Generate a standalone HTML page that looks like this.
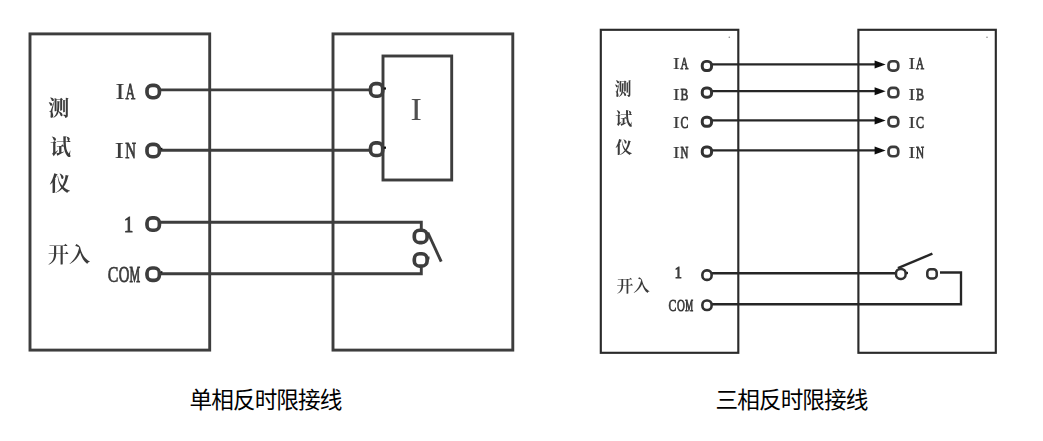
<!DOCTYPE html>
<html><head><meta charset="utf-8">
<style>
html,body{margin:0;padding:0;background:#fff;}
svg{display:block;}
.lat{font-family:"Liberation Serif","Noto Serif CJK SC",serif;fill:#3a3a3a;stroke:#3a3a3a;}
.cjs{font-family:"Liberation Serif","Noto Serif CJK SC",serif;fill:#3a3a3a;}
.cap{font-family:"Liberation Sans","Noto Sans CJK SC",sans-serif;fill:#000;}
</style></head>
<body>
<svg width="1043" height="441" viewBox="0 0 1043 441">
<defs><filter id="soft" x="0" y="0" width="1043" height="441" filterUnits="userSpaceOnUse"><feGaussianBlur stdDeviation="0.45"/></filter></defs>
<rect width="1043" height="441" fill="#fff"/>
<g filter="url(#soft)">
<!-- LEFT DIAGRAM -->
<g fill="none" stroke="#3c3c3c" stroke-width="2.9">
  <rect x="30" y="33.9" width="179.7" height="316.2"/>
  <rect x="333" y="33.9" width="179.8" height="316.2"/>
  <rect x="383" y="56" width="68.7" height="124"/>
  <path d="M160 89.9H370"/>
  <path d="M160 150.2H370"/>
  <path d="M160 222.2H421.3V229.5"/>
  <path d="M160 273.8H421.3V267.5"/>
  <path d="M427.8 232.5L441.2 261.6"/>
  <path d="M426 258H429.5"/>
</g>
<g fill="#fff" stroke="#3c3c3c" stroke-width="3.65">
  <rect x="147.00" y="85.30" width="12.40" height="12.40" rx="5.10"/>
  <rect x="147.00" y="144.40" width="12.40" height="12.40" rx="5.10"/>
  <rect x="147.00" y="217.90" width="12.40" height="12.40" rx="5.10"/>
  <rect x="147.00" y="268.00" width="12.40" height="12.40" rx="5.10"/>
  <rect x="370.50" y="83.65" width="12.20" height="12.60" rx="5.00"/>
  <rect x="370.50" y="142.90" width="12.20" height="12.60" rx="5.00"/>
  <rect x="414.30" y="230.20" width="12.80" height="12.40" rx="5.20"/>
  <rect x="414.30" y="253.70" width="12.80" height="12.40" rx="5.20"/>
</g>
<g class="lat">
<text transform="translate(115.26,99.30) scale(1.250,1)" font-size="23.00" stroke-width="0.05" vector-effect="non-scaling-stroke">I</text>
<text transform="translate(125.51,99.30) scale(0.583,1)" font-size="23.00" stroke-width="0.76" vector-effect="non-scaling-stroke">A</text>
<text transform="translate(114.46,158.30) scale(1.250,1)" font-size="23.00" stroke-width="0.05" vector-effect="non-scaling-stroke">I</text>
<text transform="translate(125.18,158.30) scale(0.646,1)" font-size="23.00" stroke-width="0.69" vector-effect="non-scaling-stroke">N</text>
<text transform="translate(124.00,231.60) scale(0.800,1)" font-size="23.00" stroke-width="1.05" vector-effect="non-scaling-stroke">1</text>
<text transform="translate(107.81,282.20) scale(0.693,1)" font-size="23.00" stroke-width="0.64" vector-effect="non-scaling-stroke">C</text>
<text transform="translate(118.66,282.20) scale(0.640,1)" font-size="23.00" stroke-width="0.70" vector-effect="non-scaling-stroke">O</text>
<text transform="translate(129.51,282.20) scale(0.520,1)" font-size="23.00" stroke-width="0.83" vector-effect="non-scaling-stroke">M</text>
<text font-size="31" transform="translate(410.6,120) scale(1.1,1)" style="fill:#505050;stroke:none">I</text>
<rect x="160.8" y="147.8" width="1.6" height="1.6" fill="#111" stroke="none"/><rect x="160.8" y="271.2" width="1.6" height="1.6" fill="#111" stroke="none"/><rect x="383.8" y="87.4" width="2.2" height="2.2" fill="#111" stroke="none"/><rect x="383.8" y="146.6" width="2.2" height="2.2" fill="#111" stroke="none"/>
</g>
<g class="cjs" font-size="21" font-weight="700">
  <text x="48.2" y="115">测</text>
  <text x="50" y="154">试</text>
  <text x="49.5" y="190.9">仪</text>
</g>
<text class="cjs" font-size="21.3" font-weight="600" x="47.8" y="262.2">开入</text>

<!-- RIGHT DIAGRAM -->
<g fill="none" stroke="#2c2c2c" stroke-width="2.15">
  <rect x="600.8" y="29.8" width="137.5" height="323"/>
  <rect x="858.4" y="29.8" width="137.4" height="323"/>
</g>
<circle cx="729.3" cy="37.2" r="0.8" fill="#888"/><circle cx="987" cy="37.2" r="0.8" fill="#888"/>
<g fill="none" stroke="#262626" stroke-width="2.35">
  <path d="M712 64.4H876"/>
  <path d="M712 91.1H876"/>
  <path d="M712 120.4H876"/>
  <path d="M712 150.4H876"/>
  <path d="M712 273.2H895"/>
  <path d="M712 304.2H961V272.5H940"/>
  <path d="M905 273H908"/>
  <path d="M897.9 268.2L932.4 253.7"/>
</g>
<g fill="#111" stroke="none">
  <path d="M874.6 60.5L885.6 64.5L874.6 68.5Z"/>
  <path d="M874.6 87.2L885.6 91.2L874.6 95.2Z"/>
  <path d="M874.6 116.5L885.6 120.5L874.6 124.5Z"/>
  <path d="M874.6 146.5L885.6 150.5L874.6 154.5Z"/>
</g>
<g fill="#fff" stroke="#303030" stroke-width="2.95">
  <rect x="702.25" y="61.35" width="9.30" height="9.10" rx="3.70"/>
  <rect x="702.25" y="88.05" width="9.30" height="9.10" rx="3.70"/>
  <rect x="702.25" y="117.15" width="9.30" height="9.10" rx="3.70"/>
  <rect x="702.25" y="147.05" width="9.30" height="9.10" rx="3.70"/>
  <rect x="702.40" y="270.35" width="9.20" height="9.50" rx="4.20" stroke-width="2.60"/>
  <rect x="702.40" y="300.45" width="9.20" height="9.50" rx="4.20" stroke-width="2.60"/>
  <rect x="888.55" y="61.25" width="9.70" height="9.30" rx="3.60" stroke-width="2.70" stroke="#3a3a3a"/>
  <rect x="888.55" y="87.95" width="9.70" height="9.30" rx="3.60" stroke-width="2.70" stroke="#3a3a3a"/>
  <rect x="888.55" y="117.05" width="9.70" height="9.30" rx="3.60" stroke-width="2.70" stroke="#3a3a3a"/>
  <rect x="888.55" y="146.95" width="9.70" height="9.30" rx="3.60" stroke-width="2.70" stroke="#3a3a3a"/>
  <rect x="896.00" y="268.90" width="9.60" height="10.00" rx="4.40" stroke-width="2.50"/>
  <rect x="927.30" y="269.20" width="9.40" height="9.20" rx="3.20" stroke-width="2.50"/>
</g>
<g class="lat">
<text transform="translate(672.87,68.90) scale(1.250,1)" font-size="17.20" stroke-width="0.05" vector-effect="non-scaling-stroke">I</text>
<text transform="translate(680.62,68.90) scale(0.633,1)" font-size="17.20" stroke-width="0.75" vector-effect="non-scaling-stroke">A</text>
<text transform="translate(908.17,68.90) scale(1.250,1)" font-size="17.20" stroke-width="0.05" vector-effect="non-scaling-stroke">I</text>
<text transform="translate(916.02,68.90) scale(0.648,1)" font-size="17.20" stroke-width="0.74" vector-effect="non-scaling-stroke">A</text>
<text transform="translate(672.87,100.30) scale(1.250,1)" font-size="17.20" stroke-width="0.05" vector-effect="non-scaling-stroke">I</text>
<text transform="translate(680.62,100.30) scale(0.685,1)" font-size="17.20" stroke-width="0.70" vector-effect="non-scaling-stroke">B</text>
<text transform="translate(908.17,100.30) scale(1.250,1)" font-size="17.20" stroke-width="0.05" vector-effect="non-scaling-stroke">I</text>
<text transform="translate(916.02,100.30) scale(0.702,1)" font-size="17.20" stroke-width="0.68" vector-effect="non-scaling-stroke">B</text>
<text transform="translate(672.87,128.30) scale(1.250,1)" font-size="17.20" stroke-width="0.05" vector-effect="non-scaling-stroke">I</text>
<text transform="translate(680.62,128.30) scale(0.685,1)" font-size="17.20" stroke-width="0.70" vector-effect="non-scaling-stroke">C</text>
<text transform="translate(908.17,128.30) scale(1.250,1)" font-size="17.20" stroke-width="0.05" vector-effect="non-scaling-stroke">I</text>
<text transform="translate(916.02,128.30) scale(0.702,1)" font-size="17.20" stroke-width="0.68" vector-effect="non-scaling-stroke">C</text>
<text transform="translate(672.87,158.20) scale(1.250,1)" font-size="17.20" stroke-width="0.05" vector-effect="non-scaling-stroke">I</text>
<text transform="translate(680.62,158.20) scale(0.633,1)" font-size="17.20" stroke-width="0.75" vector-effect="non-scaling-stroke">N</text>
<text transform="translate(908.17,158.20) scale(1.250,1)" font-size="17.20" stroke-width="0.05" vector-effect="non-scaling-stroke">I</text>
<text transform="translate(916.02,158.20) scale(0.648,1)" font-size="17.20" stroke-width="0.74" vector-effect="non-scaling-stroke">N</text>
<text transform="translate(674.73,278.00) scale(0.800,1)" font-size="17.60" stroke-width="1.00" vector-effect="non-scaling-stroke">1</text>
<text transform="translate(668.55,311.20) scale(0.684,1)" font-size="17.20" stroke-width="0.65" vector-effect="non-scaling-stroke">C</text>
<text transform="translate(676.90,311.20) scale(0.632,1)" font-size="17.20" stroke-width="0.70" vector-effect="non-scaling-stroke">O</text>
<text transform="translate(685.25,311.20) scale(0.513,1)" font-size="17.20" stroke-width="0.84" vector-effect="non-scaling-stroke">M</text>
</g>
<g class="cjs" font-size="17" font-weight="700">
  <text x="614.6" y="94.9">测</text>
  <text x="615.3" y="125">试</text>
  <text x="615.2" y="154.4">仪</text>
</g>
<text class="cjs" font-size="16.8" font-weight="600" x="616.5" y="292.4">开入</text>
</g>
<text class="cap" font-size="22.6" letter-spacing="-0.9" x="189.6" y="407.8">单相反时限接线</text>
<text class="cap" font-size="22.6" letter-spacing="-0.9" x="715.6" y="407.8">三相反时限接线</text>
</svg>
</body></html>
